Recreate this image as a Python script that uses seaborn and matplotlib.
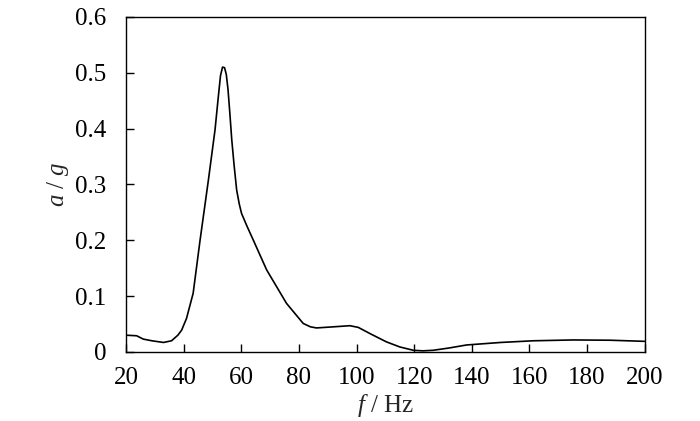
import numpy as np
import pandas as pd
import seaborn as sns
import matplotlib.pyplot as plt

# values
freq = [20, 23.7, 26, 29, 33, 35.8, 38, 39.3, 41, 43.3, 45.7, 48.6, 50.9, 52.0,
        52.8, 53.5, 54.2, 54.8, 55.4, 56.0, 56.7, 57.5, 58.4, 59.3, 60.1, 62,
        64.2, 68.8, 75.7, 81.5, 84, 86.1, 92, 97.7, 100.6, 105, 110.4, 115,
        119.7, 123, 126.6, 132, 138.2, 150, 161.3, 175.2, 188, 200]
accel = [0.030, 0.029, 0.023, 0.020, 0.017, 0.020, 0.030, 0.039, 0.060, 0.105,
         0.200, 0.308, 0.398, 0.455, 0.495, 0.510, 0.509, 0.497, 0.470, 0.430,
         0.380, 0.335, 0.290, 0.265, 0.248, 0.225, 0.200, 0.147, 0.087, 0.051,
         0.045, 0.043, 0.045, 0.047, 0.044, 0.032, 0.018, 0.009, 0.003, 0.002,
         0.003, 0.007, 0.0125, 0.017, 0.020, 0.0215, 0.021, 0.019]

df = pd.DataFrame({"f": freq, "a": accel})

sns.set_style("ticks")
plt.rcParams["font.family"] = ["Liberation Serif", "DejaVu Serif"]
plt.rcParams["mathtext.fontset"] = "custom"
plt.rcParams["mathtext.rm"] = "Liberation Serif"
plt.rcParams["mathtext.it"] = "Liberation Serif:italic"

fig = plt.figure(figsize=(7.0, 4.21), dpi=100)
ax = fig.add_axes([0.18, 0.164, 0.741, 0.796])

sns.lineplot(data=df, x="f", y="a", color="black", linewidth=1.2, ax=ax)

ax.set_xlim(20, 200)
ax.set_ylim(0, 0.6)
ax.set_xticks(np.arange(20, 201, 20))
ax.set_yticks([0, 0.1, 0.2, 0.3, 0.4, 0.5, 0.6])
ax.set_yticklabels(["0", "0.1", "0.2", "0.3", "0.4", "0.5", "0.6"])
ax.tick_params(direction="in", length=6, width=1, labelsize=18, colors="black")
ax.tick_params(axis="y", pad=14)
ax.tick_params(axis="x", pad=11)
for s in ax.spines.values():
    s.set_linewidth(1)
    s.set_color("black")

ax.set_xlabel(r"$f$ / Hz", fontsize=18, labelpad=2)
ax.set_ylabel(r"$a$ / $g$", fontsize=18, labelpad=3)

fig.savefig("out.png", dpi=100)
